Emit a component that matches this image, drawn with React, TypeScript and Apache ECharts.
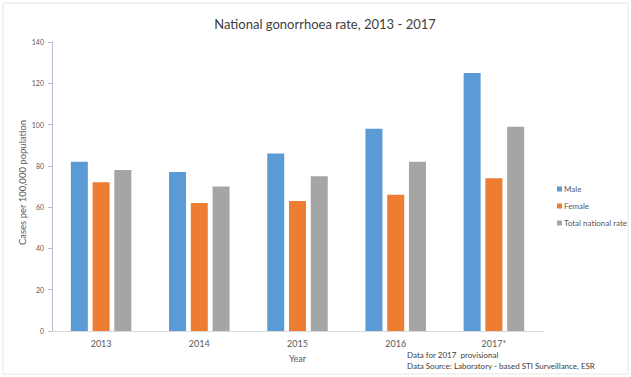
import React, { useEffect, useRef } from "react";
import * as echarts from "echarts";

const categories = ["2013", "2014", "2015", "2016", "2017*"];
const male = [82, 77, 86, 98, 125];
const female = [72, 62, 63, 66, 74];
const total = [78, 70, 75, 82, 99];
const seriesNames = ["Male", "Female", "Total national rate"];
const colors = ["#5b9bd5", "#ed7d31", "#a5a5a5"];
const title = "National gonorrhoea rate, 2013 - 2017";
const yName = "Cases per 100,000 population";
const xName = "Year";
const notes = ["Data for 2017  provisional", "Data Source: Laboratory - based STI Surveillance, ESR"];

const FONT = "Lato, 'Open Sans', sans-serif";

export default function App() {
  const ref = useRef<HTMLDivElement>(null);
  useEffect(() => {
    if (!ref.current) return;
    const chart = echarts.init(ref.current, undefined, { renderer: "svg" });
    const values = [male, female, total];
    chart.setOption({
      animation: false,
      backgroundColor: "#ffffff",
      textStyle: { fontFamily: FONT },
      title: {
        text: title,
        left: 320,
        textAlign: "center",
        top: 12,
        textStyle: { fontSize: 13, fontWeight: "normal", color: "#404040", fontFamily: FONT },
      },
      legend: {
        orient: "vertical",
        left: 552,
        top: 179,
        itemWidth: 5,
        itemHeight: 5,
        itemGap: 7,
        icon: "rect",
        data: seriesNames,
        textStyle: { fontSize: 8, color: "#595959", fontFamily: FONT, padding: [0, 0, 0, -3], lineHeight: 10 },
      },
      grid: { left: 52, right: 88, top: 42, bottom: 46, containLabel: false },
      xAxis: {
        type: "category",
        data: categories,
        name: xName,
        nameLocation: "middle",
        nameGap: 23,
        nameMoveOverlap: false,
        nameTextStyle: { fontSize: 9, color: "#595959" },
        axisLine: { lineStyle: { color: "#d9d9d9" } },
        axisTick: { show: false },
        axisLabel: { fontSize: 9, color: "#595959", margin: 8 },
      },
      yAxis: {
        type: "value",
        min: 0,
        max: 140,
        interval: 20,
        name: yName,
        nameLocation: "middle",
        nameGap: 25,
        nameMoveOverlap: false,
        nameTextStyle: { fontSize: 9.5, color: "#595959", padding: [0, 0, 0, 8] },
        axisLine: { show: true, lineStyle: { color: "#b4c0d0" } },
        axisTick: { show: true, length: 4, lineStyle: { color: "#b4c0d0" } },
        splitLine: { show: false },
        axisLabel: { fontSize: 7, color: "#595959", margin: 8 },
      },
      series: seriesNames.map((n, i) => ({
        name: n,
        type: "bar",
        data: values[i],
        barWidth: 17,
        barGap: "28%",
        itemStyle: { color: colors[i] },
      })),
      graphic: [
        {
          type: "rect",
          shape: { x: 3, y: 3, width: 625, height: 371 },
          style: { fill: "none", stroke: "#e6e6e6", lineWidth: 1 },
          silent: true,
        },
        {
          type: "text",
          left: 407,
          top: 351,
          style: { text: notes[0], fontSize: 8, fill: "#404040", fontFamily: FONT },
        },
        {
          type: "text",
          left: 407,
          top: 362,
          style: { text: notes[1], fontSize: 8, fill: "#404040", fontFamily: FONT },
        },
      ],
    });
    return () => chart.dispose();
  }, []);
  return <div ref={ref} style={{ position: "fixed", left: 0, top: 0, width: 631, height: 377 }} />;
}
